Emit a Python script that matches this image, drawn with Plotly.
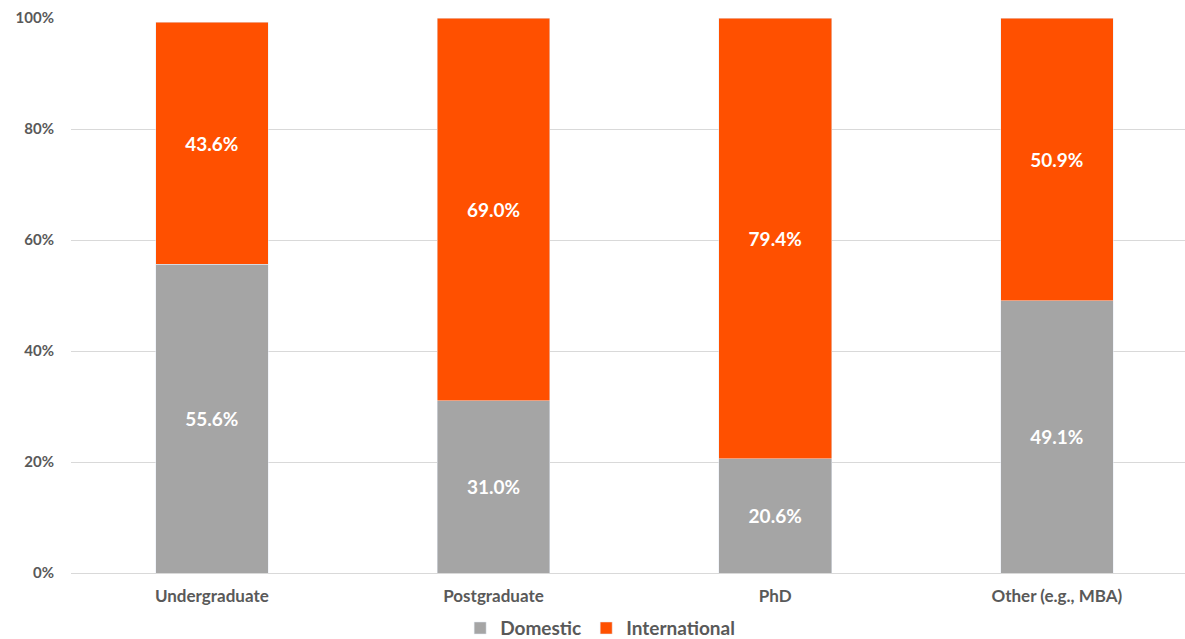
import plotly.graph_objects as go

categories = ["Undergraduate", "Postgraduate", "PhD", "Other (e.g., MBA)"]
domestic = [55.6, 31.0, 20.6, 49.1]
international = [43.6, 69.0, 79.4, 50.9]
y_ticks = [0, 20, 40, 60, 80, 100]
y_tick_labels = ["0%", "20%", "40%", "60%", "80%", "100%"]

FONT = "Lato"
TXT = "#595959"

fig = go.Figure()
fig.add_trace(go.Bar(
    name="<b>Domestic</b>", x=categories, y=domestic, marker_color="#A5A5A5",
    width=0.4, texttemplate="<b>%{y:.1f}%</b>", textposition="inside",
    insidetextanchor="middle", textfont=dict(color="white", size=19, family=FONT),
))
fig.add_trace(go.Bar(
    name="<b>International</b>", x=categories, y=international, marker_color="#FF5000",
    width=0.4, texttemplate="<b>%{y:.1f}%</b>", textposition="inside",
    insidetextanchor="middle", textfont=dict(color="white", size=19, family=FONT),
))

fig.update_layout(
    barmode="stack",
    width=1185, height=639,
    margin=dict(l=71, r=0, t=18, b=66, autoexpand=False),
    plot_bgcolor="white", paper_bgcolor="white",
    font=dict(family=FONT, color=TXT),
    legend=dict(orientation="h", x=0.475, xanchor="center",
                yref="container", y=0.017, yanchor="middle",
                font=dict(size=19, family=FONT, color=TXT),
                traceorder="normal", itemwidth=30),
    xaxis=dict(type="category", range=[-0.5, 3.455], showgrid=False, automargin=False,
               showline=False, ticks="", ticklabelstandoff=11,
               tickfont=dict(size=17, family=FONT, color=TXT),
               tickprefix="<b>", ticksuffix="</b>"),
    yaxis=dict(range=[0, 100], tickvals=y_ticks, ticktext=["<b>%s</b>" % t for t in y_tick_labels],
               showgrid=True, gridcolor="#D9D9D9", gridwidth=1, automargin=False,
               zeroline=True, zerolinecolor="#D9D9D9", zerolinewidth=1,
               showline=False, ticks="", ticklabelstandoff=16,
               tickfont=dict(size=15, family=FONT, color=TXT)),
)

fig.write_html("out.html")
